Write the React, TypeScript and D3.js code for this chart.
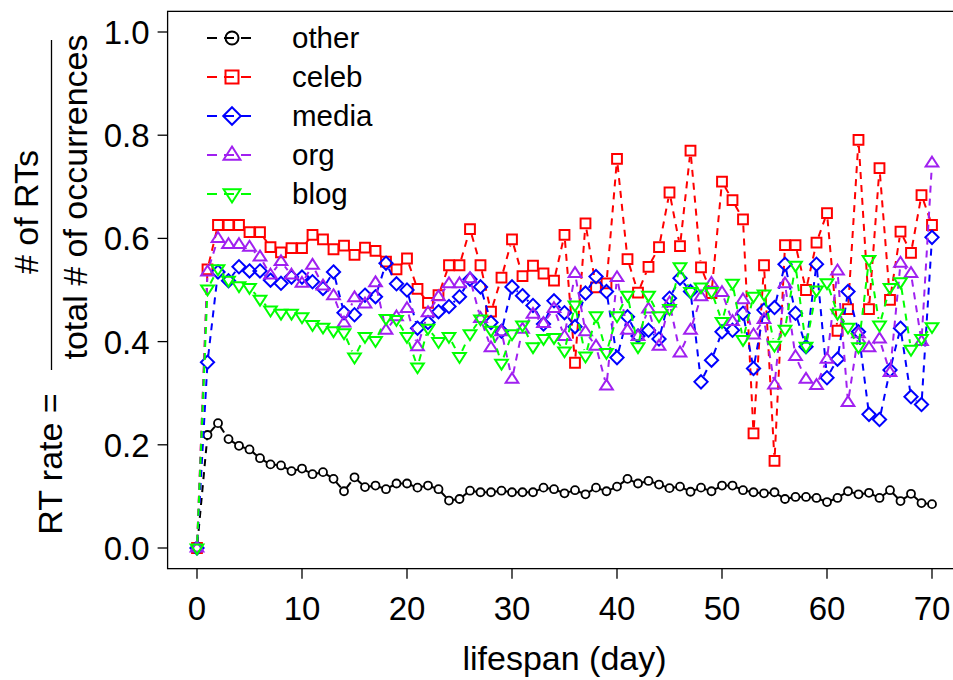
import React from "react";
import * as d3 from "d3";

const days = [0,1,2,3,4,5,6,7,8,9,10,11,12,13,14,15,16,17,18,19,20,21,22,23,24,25,26,27,28,29,30,31,32,33,34,35,36,37,38,39,40,41,42,43,44,45,46,47,48,49,50,51,52,53,54,55,56,57,58,59,60,61,62,63,64,65,66,67,68,69,70];

const other = [0,0.219,0.242,0.211,0.198,0.191,0.174,0.162,0.160,0.149,0.154,0.143,0.147,0.134,0.110,0.137,0.118,0.121,0.114,0.125,0.125,0.117,0.121,0.114,0.092,0.095,0.111,0.108,0.108,0.111,0.108,0.108,0.108,0.117,0.114,0.106,0.112,0.104,0.117,0.110,0.119,0.134,0.125,0.130,0.123,0.116,0.119,0.109,0.117,0.110,0.121,0.121,0.112,0.108,0.106,0.108,0.095,0.099,0.099,0.097,0.089,0.097,0.110,0.104,0.107,0.097,0.112,0.091,0.105,0.087,0.085];

const celeb = [0,0.54,0.626,0.626,0.626,0.612,0.612,0.583,0.573,0.581,0.581,0.607,0.598,0.579,0.586,0.568,0.582,0.576,0.555,0.540,0.561,0.502,0.475,0.490,0.548,0.548,0.618,0.548,0.458,0.524,0.598,0.527,0.547,0.532,0.518,0.607,0.359,0.629,0.505,0.513,0.754,0.560,0.495,0.545,0.583,0.689,0.585,0.770,0.544,0.494,0.710,0.674,0.637,0.222,0.548,0.169,0.587,0.587,0.500,0.592,0.649,0.421,0.463,0.791,0.463,0.736,0.481,0.613,0.572,0.684,0.626];

const media = [0,0.360,0.535,0.518,0.545,0.537,0.537,0.519,0.513,0.525,0.525,0.516,0.503,0.535,0.456,0.452,0.490,0.487,0.552,0.512,0.500,0.426,0.437,0.458,0.468,0.487,0.521,0.506,0.437,0.420,0.506,0.489,0.470,0.434,0.479,0.456,0.429,0.494,0.526,0.497,0.369,0.448,0.411,0.422,0.405,0.484,0.523,0.497,0.322,0.364,0.419,0.422,0.455,0.348,0.461,0.466,0.550,0.455,0.390,0.550,0.330,0.366,0.497,0.419,0.259,0.249,0.345,0.426,0.293,0.278,0.602];

const org = [0,0.535,0.600,0.588,0.588,0.583,0.564,0.529,0.555,0.529,0.513,0.548,0.508,0.489,0.436,0.485,0.473,0.514,0.422,0.448,0.464,0.390,0.456,0.487,0.512,0.512,0.522,0.445,0.388,0.419,0.327,0.424,0.453,0.435,0.464,0.410,0.532,0.419,0.391,0.314,0.524,0.422,0.410,0.463,0.391,0.475,0.378,0.422,0.487,0.513,0.495,0.439,0.481,0.413,0.443,0.316,0.512,0.371,0.327,0.315,0.366,0.537,0.282,0.415,0.388,0.405,0.340,0.552,0.532,0.400,0.746];

const blog = [0,0.502,0.541,0.519,0.508,0.505,0.482,0.461,0.455,0.455,0.448,0.433,0.428,0.421,0.417,0.370,0.410,0.402,0.445,0.443,0.410,0.351,0.426,0.400,0.410,0.371,0.415,0.444,0.422,0.358,0.415,0.432,0.390,0.406,0.408,0.382,0.471,0.372,0.450,0.379,0.450,0.490,0.390,0.490,0.450,0.464,0.545,0.497,0.506,0.497,0.439,0.513,0.404,0.488,0.492,0.393,0.424,0.548,0.391,0.500,0.514,0.455,0.428,0.390,0.559,0.432,0.505,0.516,0.385,0.406,0.429];

const seriesNames = ["other", "celeb", "media", "org", "blog"];
const seriesValues = [other, celeb, media, org, blog];
const seriesColors = ["#000000", "#FF0000", "#0000FF", "#A020F0", "#00FF00"];
const seriesShapes = ["circle", "square", "diamond", "triUp", "triDown"];

const xTicks = [0, 10, 20, 30, 40, 50, 60, 70];
const yTicks = [0, 0.2, 0.4, 0.6, 0.8, 1.0];
const yTickLabels = ["0.0", "0.2", "0.4", "0.6", "0.8", "1.0"];

const FONT = "'Liberation Sans', Arial, Helvetica, sans-serif";

function markerPath(shape: string, s: number): string {
  switch (shape) {
    case "circle":
      return `M${-s},0A${s},${s} 0 1,0 ${s},0A${s},${s} 0 1,0 ${-s},0Z`;
    case "square":
      return `M${-s},${-s}H${s}V${s}H${-s}Z`;
    case "diamond": {
      const d = s * 1.35;
      return `M0,${-d}L${d},0L0,${d}L${-d},0Z`;
    }
    case "triUp": {
      const h = s * 1.3;
      const w = h * 0.866 * 1.15;
      return `M0,${-h}L${w},${h * 0.55}L${-w},${h * 0.55}Z`;
    }
    case "triDown": {
      const h = s * 1.3;
      const w = h * 0.866 * 1.15;
      return `M0,${h}L${w},${-h * 0.55}L${-w},${-h * 0.55}Z`;
    }
  }
  return "";
}

export default function App() {
  const W = 953;
  const H = 680;
  const x = d3.scaleLinear().domain([0, 70]).range([197, 932]);
  const y = d3.scaleLinear().domain([0, 1]).range([548, 32]);
  const fx0 = x(-2.8), fx1 = x(72.8);
  const fy0 = y(1.04), fy1 = y(-0.04);

  const dash = "7,6";

  const renderSeries = (vals: number[], si: number) => {
    const color = seriesColors[si];
    const shape = seriesShapes[si];
    const isBlack = si === 0;
    const gap = isBlack ? 4.2 : 6.2;
    const ms = isBlack ? 4 : 4.9;
    const segs: React.ReactNode[] = [];
    for (let i = 0; i < vals.length - 1; i++) {
      const x0 = x(days[i]), y0 = y(vals[i]);
      const x1 = x(days[i + 1]), y1 = y(vals[i + 1]);
      const dx = x1 - x0, dy = y1 - y0;
      const L = Math.sqrt(dx * dx + dy * dy);
      if (L <= 2 * gap) continue;
      const ux = dx / L, uy = dy / L;
      segs.push(
        <line key={`s${i}`} x1={x0 + ux * gap} y1={y0 + uy * gap} x2={x1 - ux * gap} y2={y1 - uy * gap}
          stroke={color} strokeWidth={2} strokeDasharray={dash} />
      );
    }
    const pts = vals.map((v, i) => (
      <path key={`p${i}`} d={markerPath(shape, ms)} transform={`translate(${x(days[i])},${y(v)})`}
        fill="none" stroke={color} strokeWidth={isBlack ? 1.8 : 2} />
    ));
    return <g key={seriesNames[si]}>{segs}{pts}</g>;
  };

  const legendY = [38, 77, 116, 155, 194];

  return (
    <svg width={W} height={H} style={{ position: "absolute", left: 0, top: 0, background: "#fff" }}
      fontFamily={FONT}>
      <rect x={0} y={0} width={W} height={H} fill="#fff" />
      <rect x={fx0} y={fy0} width={fx1 - fx0} height={fy1 - fy0} fill="none" stroke="#000" strokeWidth={1.3} />
      {xTicks.map((t) => (
        <g key={`xt${t}`}>
          <line x1={x(t)} x2={x(t)} y1={fy1} y2={fy1 + 10} stroke="#000" strokeWidth={1.3} />
          <text x={x(t)} y={fy1 + 51} textAnchor="middle" fontSize={33}>{t}</text>
        </g>
      ))}
      {yTicks.map((t, i) => (
        <g key={`yt${t}`}>
          <line x1={fx0 - 10} x2={fx0} y1={y(t)} y2={y(t)} stroke="#000" strokeWidth={1.3} />
          <text x={fx0 - 18} y={y(t) + 12} textAnchor="end" fontSize={33}>{yTickLabels[i]}</text>
        </g>
      ))}
      <text x={(fx0 + fx1) / 2} y={670} textAnchor="middle" fontSize={34}>lifespan (day)</text>
      <text transform="translate(62,464) rotate(-90)" textAnchor="middle" fontSize={34}>RT rate =</text>
      <line x1={51.5} x2={51.5} y1={40} y2={370} stroke="#000" strokeWidth={1.3} />
      <text transform="translate(38,212) rotate(-90)" textAnchor="middle" fontSize={34}># of RTs</text>
      <text transform="translate(87,197) rotate(-90)" textAnchor="middle" fontSize={34}>total # of occurrences</text>

      <g>{seriesValues.map((v, i) => renderSeries(v, i))}</g>

      {seriesNames.map((n, i) => (
        <g key={`lg${n}`}>
          <line x1={207} x2={257} y1={legendY[i]} y2={legendY[i]} stroke={seriesColors[i]} strokeWidth={2} strokeDasharray="10,7" />
          <path d={markerPath(seriesShapes[i], 6.5)} transform={`translate(232,${legendY[i]})`} fill="none"
            stroke={seriesColors[i]} strokeWidth={2} />
          <text x={292} y={legendY[i] + 10} fontSize={29.5}>{n}</text>
        </g>
      ))}
    </svg>
  );
}
